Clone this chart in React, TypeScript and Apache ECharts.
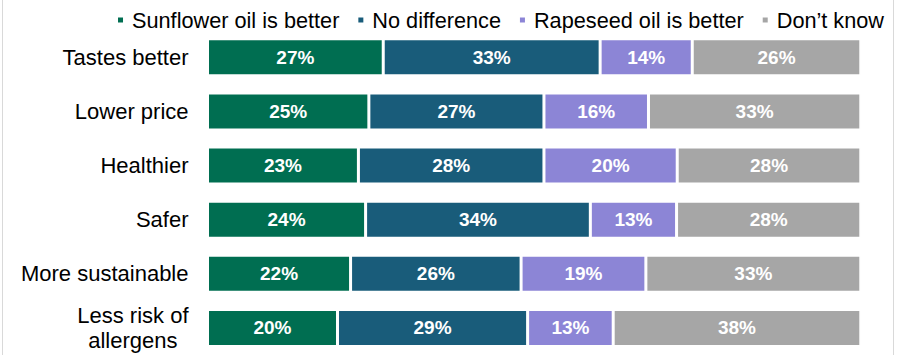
import React, { useEffect, useRef } from "react";
import * as echarts from "echarts";

const categories = [
  "Tastes better",
  "Lower price",
  "Healthier",
  "Safer",
  "More sustainable",
  "Less risk of allergens",
];
const seriesNames = [
  "Sunflower oil is better",
  "No difference",
  "Rapeseed oil is better",
  "Don’t know",
];
const sunflower = [26.9, 24.7, 23.1, 24.2, 21.9, 19.9];
const noDifference = [33.2, 26.8, 28.4, 34.4, 26.1, 29.1];
const rapeseed = [14.1, 16.0, 20.4, 13.2, 19.1, 13.1];
const dontKnow = [25.8, 32.5, 28.1, 28.2, 32.9, 37.9];
const colors = ["#006E51", "#195C7A", "#8C85D6", "#A6A6A6"];

const FONT = "'Liberation Sans', Arial, sans-serif";

export default function App() {
  const ref = useRef<HTMLDivElement>(null);
  useEffect(() => {
    if (!ref.current) return;
    const chart = echarts.init(ref.current, undefined, { renderer: "svg" });
    const allData = [sunflower, noDifference, rapeseed, dontKnow];
    chart.setOption({
      animation: false,
      backgroundColor: "#ffffff",
      legend: {
        data: seriesNames,
        right: 9,
        top: 4,
        icon: "rect",
        itemWidth: 7,
        itemHeight: 7,
        itemGap: 17,
        textStyle: {
          fontFamily: FONT,
          fontSize: 21.7,
          color: "#000",
          padding: [0, 0, 0, 3],
        },
      },
      grid: { left: 207.5, width: 653.3, top: 30.2, height: 330, containLabel: false },
      xAxis: { type: "value", min: 0, max: 100, show: false },
      yAxis: {
        type: "category",
        data: categories,
        inverse: true,
        axisLine: { show: false },
        axisTick: { show: false },
        axisLabel: {
          margin: 19,
          align: "right",
          fontFamily: FONT,
          fontSize: 22,
          color: "#000",
          formatter: (v: string) =>
            v === "Less risk of allergens"
              ? "{c|Less risk of}\n{c|allergens}"
              : v,
          rich: {
            c: {
              align: "center",
              fontFamily: FONT,
              fontSize: 22,
              color: "#000",
              lineHeight: 25,
            },
          },
        },
      },
      series: seriesNames.map((name, i) => ({
        name,
        type: "bar",
        stack: "total",
        barWidth: 37,
        data: allData[i],
        itemStyle: { color: colors[i], borderColor: "#ffffff", borderWidth: 1.5 },
        label: {
          show: true,
          position: "inside",
          color: "#ffffff",
          fontFamily: FONT,
          fontWeight: "bold",
          fontSize: 19,
          formatter: (p: any) => Math.round(p.value) + "%",
        },
      })),
      graphic: [
        {
          type: "line",
          shape: { x1: 2.5, y1: 0, x2: 2.5, y2: 355 },
          style: { stroke: "#d9d9d9", lineWidth: 1 },
        },
        {
          type: "line",
          shape: { x1: 893.5, y1: 0, x2: 893.5, y2: 355 },
          style: { stroke: "#d9d9d9", lineWidth: 1 },
        },
      ],
    });
    return () => chart.dispose();
  }, []);
  return (
    <div
      ref={ref}
      style={{ position: "fixed", left: 0, top: 0, width: 898, height: 355 }}
    />
  );
}
